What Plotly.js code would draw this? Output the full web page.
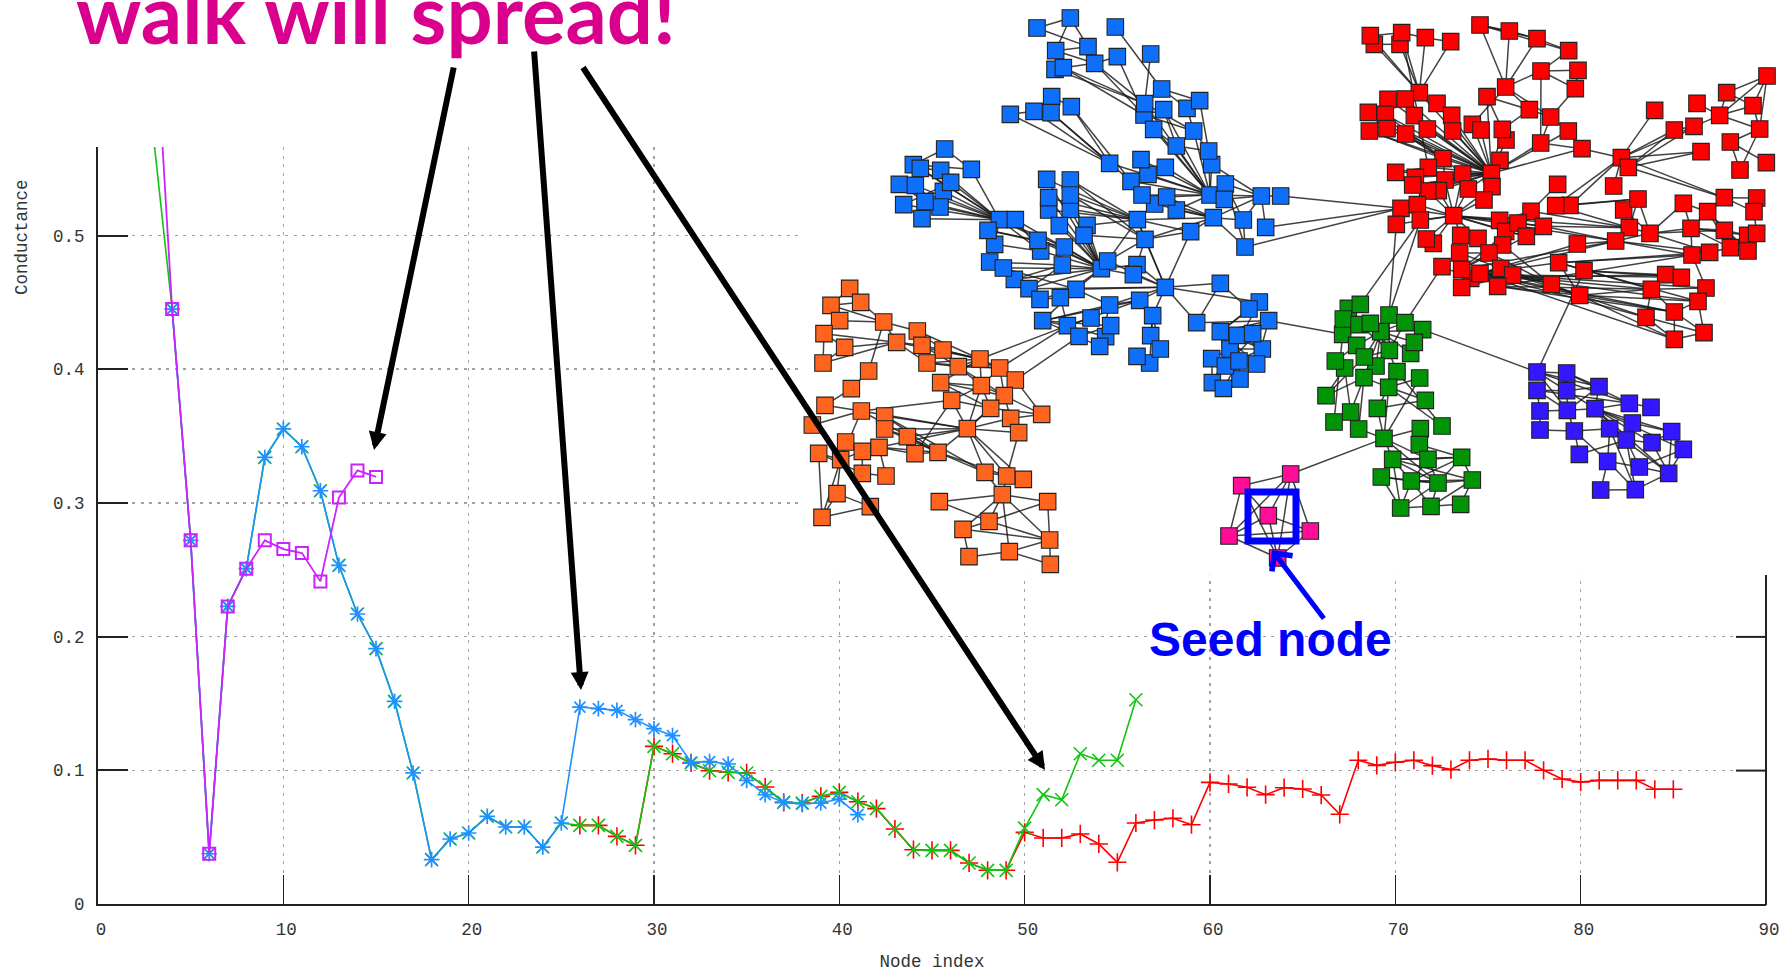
<!DOCTYPE html>
<html><head><meta charset="utf-8">
<script src="https://cdn.plot.ly/plotly-3.0.1.min.js"></script>
<style>html,body{margin:0;padding:0;background:#fff}#c{width:1783px;height:972px}</style>
</head><body><div id="c"></div>
<script>
// ---------- conductance curves (node index -> conductance)
const purpleIdx=[3,4,5,6,7,8,9,10,11,12,13,14,15];
const purpleVal=[.68,.445,.272,.0376,.2226,.2508,.272,.2655,.2625,.2413,.304,.3243,.3194];
const blueIdx=[4,5,6,7,8,9,10,11,12,13,14,15,16,17,18,19,20,21,22,23,24,25,26,27,28,29,30,31,32,33,34,35,36,37,38,39,40,41];
const blueVal=[.445,.272,.0376,.2226,.2508,.334,.3553,.342,.3091,.2533,.2169,.191,.1516,.098,.0332,.0486,.0531,.0656,.0576,.0576,.0426,.0606,.1473,.1461,.1448,.1379,.1311,.1259,.106,.1065,.1047,.0925,.0818,.076,.075,.0755,.0785,.0668];
const greenIdx=[3,4,5,6,7,8,9,10,11,12,13,14,15,16,17,18,19,20,21,22,23,24,25,26,27,28,29,30,31,32,33,34,35,36,37,38,39,40,41,42,43,44,45,46,47,48,49,50,51,52,53,54,55,56];
const greenVal=[.573,.445,.272,.0376,.2226,.2508,.334,.3553,.342,.3091,.2533,.2169,.191,.1516,.098,.0332,.0486,.0531,.0656,.0576,.0576,.0426,.0606,.0588,.0588,.0506,.0439,.1179,.1124,.1055,.0997,.0985,.098,.0875,.076,.0755,.0805,.0835,.0765,.0713,.0561,.0406,.0401,.0401,.0307,.0252,.0252,.0568,.0818,.078,.1124,.1075,.1075,.1528];
const redIdx=[26,27,28,29,30,31,32,33,34,35,36,37,38,39,40,41,42,43,44,45,46,47,48,49,50,51,52,53,54,55,56,57,58,59,60,61,62,63,64,65,66,67,68,69,70,71,72,73,74,75,76,77,78,79,80,81,82,83,84,85];
const redVal=[.0588,.0588,.0506,.0439,.1179,.1124,.1055,.0997,.0985,.098,.0875,.076,.0755,.0805,.0835,.0765,.0713,.0561,.0406,.0401,.0401,.0307,.0252,.0252,.0536,.0494,.0494,.0524,.0449,.0312,.0606,.0628,.0641,.0593,.091,.0898,.0873,.0818,.087,.086,.0815,.0671,.1075,.1037,.106,.1075,.1035,.1005,.1075,.1085,.1075,.1075,.1,.0935,.0912,.0925,.0925,.0925,.0858,.0858];
const xTicks=[0,10,20,30,40,50,60,70,80,90];
const yTicks=[0,.1,.2,.3,.4,.5];

// ---------- network nodes, in picture units (third of a pixel) from each cluster's origin
const blueOrigin=[880,0];
const blueNodes=[[471,84],[571,54],[624,140],[527,152],[525,208],[550,203],[644,190],[712,170],[706,81],[812,162],[845,267],[792,345],[794,311],[851,329],[921,325],[959,302],[821,388],[941,393],[889,438],[995,494],[986,453],[391,343],[462,334],[515,290],[513,338],[574,320],[689,490],[753,544],[804,523],[783,479],[856,502],[824,612],[786,585],[889,630],[860,591],[990,585],[1036,552],[1033,598],[1144,588],[1202,588],[1000,653],[1090,660],[1157,682],[1095,741],[932,695],[795,718],[772,659],[100,494],[194,447],[121,505],[182,511],[274,508],[190,574],[212,547],[58,553],[106,556],[71,614],[180,621],[135,605],[126,656],[358,659],[406,659],[500,538],[571,540],[506,630],[506,593],[571,628],[571,585],[538,677],[621,676],[612,706],[344,733],[324,691],[482,753],[474,721],[553,741],[329,786],[403,838],[370,804],[547,795],[664,806],[683,783],[771,794],[760,824],[447,866],[480,898],[588,868],[541,893],[856,862],[1021,850],[779,901],[689,915],[488,962],[562,977],[677,1010],[633,954],[692,977],[597,1009],[659,1039],[818,947],[812,1007],[809,1089],[771,1069],[841,1047],[950,968],[1138,906],[1107,927],[1166,962],[1050,1047],[1147,1047],[1021,995],[1072,1006],[1118,1001],[995,1076],[1080,1137],[1036,1098],[1130,1092],[1077,1083],[997,1148],[1030,1165]];
const orangeOrigin=[790,270];
const orangeNodes=[[179,55],[212,97],[123,106],[149,152],[281,156],[102,191],[382,183],[320,217],[164,232],[396,226],[459,240],[99,279],[411,279],[570,267],[505,290],[629,294],[236,303],[676,330],[452,338],[574,347],[184,356],[643,377],[485,391],[105,406],[602,415],[755,433],[662,445],[214,423],[284,438],[67,465],[532,476],[284,477],[686,488],[352,500],[167,516],[86,550],[152,569],[267,532],[217,544],[375,551],[444,547],[217,610],[288,618],[585,607],[700,628],[650,618],[637,674],[448,695],[773,695],[141,671],[96,742],[241,710],[597,754],[519,778],[779,810],[658,845],[537,860],[781,883]];
const greenOrigin=[1140,280];
const greenNodes=[[625,85],[661,73],[608,163],[610,117],[657,134],[722,155],[691,130],[747,105],[795,128],[848,149],[812,220],[650,196],[748,211],[823,187],[614,264],[586,243],[708,258],[673,231],[771,275],[839,294],[672,293],[746,322],[558,347],[632,396],[712,385],[856,361],[582,426],[656,447],[906,438],[841,446],[732,475],[838,494],[758,538],[864,538],[724,591],[814,603],[894,609],[782,684],[873,679],[965,532],[997,600],[962,673]];
const pinkOrigin=[1140,280];
const pinkNodes=[[452,582],[305,617],[385,707],[267,768],[511,753],[413,834]];
const violetOrigin=[1440,340];
const violetNodes=[[291,151],[291,96],[380,152],[380,99],[477,140],[568,190],[633,202],[300,213],[382,211],[465,206],[300,270],[403,273],[509,266],[559,300],[577,249],[636,308],[695,275],[730,328],[418,343],[503,364],[598,381],[686,400],[482,450],[586,449]];
const redOrigin=[1340,0];
const redNodes=[[103,133],[91,107],[180,133],[185,98],[256,113],[332,125],[420,75],[508,93],[591,116],[686,152],[603,213],[714,211],[706,266],[497,261],[441,290],[568,329],[632,351],[238,278],[144,298],[196,297],[291,310],[85,337],[136,343],[223,347],[335,346],[141,386],[88,393],[197,402],[262,387],[397,373],[338,393],[423,390],[498,420],[487,388],[602,429],[685,393],[726,446],[309,476],[265,502],[167,517],[226,532],[315,540],[368,522],[480,481],[454,520],[295,572],[263,573],[218,555],[385,567],[456,560],[432,600],[653,553],[821,558],[844,473],[865,502],[944,331],[1003,390],[1062,379],[1071,310],[1160,278],[1139,346],[1239,317],[1281,228],[1259,387],[1171,426],[1083,455],[1279,488],[1200,510],[851,630],[894,597],[1030,610],[1153,593],[1250,594],[1103,635],[1242,635],[183,625],[232,614],[341,647],[169,673],[241,660],[573,634],[690,616],[647,617],[479,661],[497,694],[534,669],[610,679],[559,709],[868,683],[930,700],[1053,685],[1153,691],[1223,706],[1250,700],[280,730],[259,717],[362,706],[414,715],[488,735],[712,732],[827,723],[359,759],[447,759],[1056,765],[1109,757],[1171,743],[1224,753],[306,800],[392,835],[365,862],[482,805],[518,825],[365,808],[420,820],[473,859],[656,788],[732,812],[977,824],[1024,832],[634,853],[719,886],[934,868],[1098,864],[1074,904],[1003,936],[918,952],[1092,998],[1003,1018]];

// ---------- network links: [node, [neighbours]]
const blueLinks=[[0,[1,2]],[1,[2,3]],[3,[2,6]],[2,[6]],[5,[6,11,12]],[6,[7,11,12]],[7,[11]],[4,[12]],[8,[10]],[9,[12]],[10,[12,15,14]],[11,[17,35,13]],[12,[17,35]],[13,[18,35]],[14,[17]],[15,[20]],[17,[20,35]],[18,[20,35]],[16,[35,18]],[19,[35,38]],[20,[35]],[21,[22,26]],[22,[23,26]],[23,[25]],[24,[26,27]],[25,[26,27]],[26,[35]],[27,[35]],[28,[35]],[29,[35]],[30,[35]],[31,[40]],[32,[35,40]],[33,[40,35]],[34,[35,40]],[35,[38]],[36,[38]],[37,[38]],[38,[39,40,41,42]],[40,[41,43,44,45,46]],[41,[43,36]],[43,[36]],[48,[47,51]],[47,[60,51]],[49,[50,60]],[50,[60]],[51,[60]],[52,[60]],[53,[60,56]],[54,[60,58]],[55,[60]],[56,[59,60]],[57,[60]],[58,[60]],[59,[60]],[60,[61,71,73,75,80]],[61,[73,80]],[71,[72,73]],[72,[74,75]],[76,[79]],[77,[79,80]],[78,[84,80,86]],[84,[80,79,88]],[85,[86,87]],[62,[80,46]],[63,[45,46]],[64,[80,46]],[65,[80,46]],[66,[80,46]],[67,[80,45,46]],[68,[80]],[69,[80,46]],[70,[80,45]],[73,[80]],[74,[80]],[75,[80]],[79,[80]],[81,[80,88,46,45]],[82,[80,45,88]],[83,[80,88]],[86,[80,88,91,92]],[87,[80,93]],[44,[88,46,45]],[45,[88,46]],[46,[88]],[88,[89,104,105,90,91,99]],[90,[91,92,93]],[91,[92,98]],[92,[93,96,98]],[93,[94,95]],[96,[97]],[99,[100,101,103]],[89,[104,106]],[104,[107]],[105,[110,115]],[106,[110]],[107,[110,111,112,115,116]],[108,[109,113,118]],[109,[110,111,115]],[110,[115,114,116]],[111,[114,115]],[112,[116]],[113,[114,118]],[114,[117,119]],[115,[116,117]],[117,[119]],[118,[119]]];
const orangeLinks=[[0,[1,2]],[1,[2,4]],[2,[3,4]],[3,[4]],[4,[6,7,16]],[5,[7,8,11]],[7,[8,9,11,12,13]],[8,[11]],[6,[10,13]],[9,[13,14]],[10,[13,14]],[12,[13,14,15]],[13,[14,15,17,18,19]],[14,[15,19,21]],[15,[17,19,21]],[18,[19,21,24]],[19,[21,22,24,30]],[21,[24,25,26,30]],[22,[24,30,39,27]],[17,[25]],[24,[25,30]],[26,[25,30]],[16,[20]],[20,[23]],[23,[27]],[29,[27]],[27,[30,36,40]],[28,[30,40,43]],[31,[30,33,40]],[33,[30,39,40]],[37,[30,39,40,42]],[40,[30,39,43,45]],[30,[32,43,45,44]],[32,[45]],[43,[45,46]],[44,[45]],[34,[38,36]],[36,[35,38,49,50,51]],[35,[41,50]],[38,[41]],[41,[42]],[49,[51,50]],[50,[51]],[46,[45,47,48,52,53,54,55]],[47,[52]],[48,[52,54]],[52,[54,53]],[53,[54,56]],[55,[54,56,57]],[54,[57]]];
const greenLinks=[[0,[2,4]],[2,[26,3]],[3,[4]],[4,[12]],[11,[5,15]],[6,[12]],[7,[12]],[8,[5,12]],[9,[5]],[13,[5]],[10,[5]],[16,[5]],[17,[5,12]],[18,[5,28]],[20,[5,22,23,21,27]],[14,[15,22,23]],[22,[17]],[26,[23]],[23,[27]],[27,[30]],[21,[24,25,28,30]],[24,[30,25]],[19,[30,21]],[30,[29,32,33,36]],[31,[33,39]],[32,[33,35,36,37,39,40]],[33,[35,36,39]],[34,[35,36,37]],[35,[36,37,38,39,40]],[36,[37,38,39,40]],[37,[38]],[38,[40,41]],[39,[40]],[40,[41]]];
const pinkLinks=[[0,[1,2,3,4,5]],[1,[2,3,5]],[2,[3,4,5]],[3,[4,5]],[4,[5]]];
const violetLinks=[[1,[3,2,4,5,8]],[3,[4,5,8]],[0,[2,8,5,7]],[2,[4,9]],[4,[8,9]],[5,[6,9]],[7,[8,10]],[8,[9,11]],[10,[11]],[11,[12,19,18]],[9,[12,14,16,17,15,21,13]],[12,[13,19,23,21]],[14,[16,13]],[13,[15,20,23]],[15,[16,21]],[16,[17,21]],[17,[21,20]],[18,[13]],[19,[20,22,23]],[20,[21]],[21,[23]],[22,[23]]];
const redLinks=[[0,[1,2,17]],[1,[17,3]],[2,[3,17]],[3,[4,17,38]],[4,[5,17]],[5,[17]],[6,[7,8,9,13]],[7,[8,13]],[8,[9,13]],[9,[10]],[10,[11,12,13,34]],[11,[12]],[12,[16]],[13,[15,16,29]],[14,[15,33,44]],[15,[16,33]],[16,[34,35]],[17,[44]],[18,[44]],[19,[44]],[20,[44]],[21,[44,37]],[22,[44,37]],[23,[44]],[24,[44]],[25,[44]],[26,[44,37]],[27,[44,37]],[28,[44]],[29,[44]],[30,[44]],[31,[44]],[32,[44]],[33,[44]],[34,[44,36]],[35,[44,36]],[36,[44,53]],[37,[38,41,42,44]],[38,[41,44]],[39,[38,44]],[40,[44]],[41,[44]],[42,[44]],[43,[44]],[45,[44]],[46,[44]],[47,[44]],[48,[44]],[49,[44]],[50,[44]],[53,[55,56,57,65,71,54,52]],[54,[56,65,57,71]],[56,[57]],[57,[60]],[58,[60]],[59,[60,61,62]],[60,[61,62,63]],[61,[62,63]],[62,[63]],[63,[64,67]],[64,[66,67]],[81,[53,69]],[82,[53,69,88]],[51,[80]],[77,[75,76,78,79,94,95,96,97,50,46,45,48,49,41,42,83,84,86,88,100,87]],[80,[83,84,88]],[86,[83,88,100]],[87,[84,83,112,86]],[85,[84,112]],[98,[83,84,112,119]],[102,[97,98,101,119]],[99,[100,113]],[100,[88,89,103,104,113,112]],[112,[113]],[113,[114,115,120,121,122,123,124,125,127]],[120,[114,115,121,123,124,125,127]],[88,[89]],[89,[90,70,91,104,69]],[68,[89,69]],[69,[88]],[70,[73,90]],[71,[72,73,74]],[73,[90,91,105,106]],[90,[92,91,105]],[91,[92,105,106]],[92,[93]],[104,[105,115]],[103,[90,114,115,122]],[105,[106]],[72,[74]],[74,[93]],[114,[121,124]],[115,[121,123]],[121,[122,124,125]],[122,[123]],[123,[124,126]],[124,[126,127]],[125,[126,127]],[126,[127]],[96,[97,101]],[101,[108,112]],[108,[107,110,117]],[110,[109,101,119]],[109,[111]],[111,[114,118,119,120]],[118,[116]],[116,[117]],[119,[120]]];
// links between clusters
const bridges=[["blue",39,"red",75],["blue",42,"red",75],["blue",43,"red",75],["blue",107,"green",2],["blue",93,"orange",13],["blue",93,"orange",15],["blue",97,"orange",17],["pink",0,"green",30],["green",1,"red",79],["green",7,"red",79],["green",7,"red",78],["green",8,"red",107],["green",9,"violet",1],["red",116,"violet",1]];

const sets={
 blue:{nodes:blueNodes,origin:blueOrigin,links:blueLinks,color:'#0E6FFA'},
 orange:{nodes:orangeNodes,origin:orangeOrigin,links:orangeLinks,color:'#FF641E'},
 green:{nodes:greenNodes,origin:greenOrigin,links:greenLinks,color:'#009406'},
 red:{nodes:redNodes,origin:redOrigin,links:redLinks,color:'#FF0000'},
 violet:{nodes:violetNodes,origin:violetOrigin,links:violetLinks,color:'#3318FF'},
 pink:{nodes:pinkNodes,origin:pinkOrigin,links:pinkLinks,color:'#FF0D96'}
};
const pos=(k,i)=>[sets[k].origin[0]+sets[k].nodes[i][0]/3,sets[k].origin[1]+sets[k].nodes[i][1]/3];
const ex=[],ey=[];
const link=(a,b)=>{ex.push(a[0],b[0],null);ey.push(a[1],b[1],null);};
Object.keys(sets).forEach(k=>sets[k].links.forEach(([a,list])=>list.forEach(b=>link(pos(k,a),pos(k,b)))));
bridges.forEach(b=>link(pos(b[0],b[1]),pos(b[2],b[3])));

const curve=(x,y,color,symbol,size,lw,mw)=>({type:'scatter',mode:'lines+markers',x,y,xaxis:'x',yaxis:'y',hoverinfo:'skip',
 line:{color,width:lw},marker:{symbol,size,color,line:{color,width:mw}}});
const traces=[
 curve(redIdx,redVal,'#FF0000','cross-thin',13,1.6,1.6),
 curve(greenIdx,greenVal,'#10C410','x-thin',13,1.6,1.6),
 curve(blueIdx,blueVal,'#1E90FF','asterisk',13,1.6,1.7),
 curve(purpleIdx,purpleVal,'#CC22FF','square-open',12,1.8,2),
 {type:'scatter',mode:'lines',x:ex,y:ey,xaxis:'x2',yaxis:'y2',hoverinfo:'skip',connectgaps:false,line:{color:'rgba(25,25,25,.82)',width:1.5}}
];
Object.keys(sets).forEach(k=>{
 const s=sets[k];
 traces.push({type:'scatter',mode:'markers',xaxis:'x2',yaxis:'y2',hoverinfo:'skip',
  x:s.nodes.map((_,i)=>pos(k,i)[0]),y:s.nodes.map((_,i)=>pos(k,i)[1]),
  marker:{symbol:'square',size:16.5,color:s.color,line:{color:'#222',width:1.1}}});
});

const axisFont={family:'"Liberation Mono","DejaVu Sans Mono",monospace',size:17.5,color:'#333'};
const arrow=(x,y,ax,ay,color,w,head,size)=>({xref:'x2',yref:'y2',axref:'x2',ayref:'y2',x,y,ax,ay,text:'',showarrow:true,arrowcolor:color,arrowwidth:w,arrowhead:head,arrowsize:size,standoff:0,startstandoff:0});
const txt=(x,y,text,font,extra)=>Object.assign({xref:'x2',yref:'y2',x,y,text,font,showarrow:false,xanchor:'center',yanchor:'middle'},extra||{});
const layout={
 width:1783,height:972,autosize:false,showlegend:false,hovermode:false,
 margin:{l:0,r:0,t:0,b:0,pad:0},paper_bgcolor:'#fff',plot_bgcolor:'rgba(0,0,0,0)',
 xaxis:{domain:[98/1783,1766/1783],range:[0,90],anchor:'y',tickvals:xTicks,ticks:'inside',ticklen:29,tickwidth:1.6,tickcolor:'#222',
  showline:true,linecolor:'#222',linewidth:2,showgrid:true,gridcolor:'#A0A0A0',griddash:'3px,5.5px',gridwidth:1.5,zeroline:false,
  tickfont:axisFont,ticklabelstandoff:8,ticklabelshift:3,fixedrange:true,
  title:{text:'Node index',font:axisFont,standoff:18}},
 yaxis:{domain:[68/972,825/972],range:[0,757/1337],anchor:'x',tickvals:yTicks,ticktext:['0','0.1','0.2','0.3','0.4','0.5'],ticks:'inside',ticklen:30,tickwidth:2,tickcolor:'#222',
  showline:true,linecolor:'#222',linewidth:2,showgrid:true,gridcolor:'#A0A0A0',griddash:'3px,5.5px',gridwidth:1.5,zeroline:false,
  tickfont:axisFont,ticklabelstandoff:8,fixedrange:true},
 xaxis2:{domain:[0,1],range:[0,1783],anchor:'y2',visible:false,fixedrange:true},
 yaxis2:{domain:[0,1],range:[972,0],anchor:'x2',visible:false,fixedrange:true},
 shapes:[
  {type:'rect',layer:'between',xref:'x',yref:'y',x0:37.98,x1:91,y0:.2463,y1:.6,fillcolor:'#fff',line:{width:0}},
  {type:'line',layer:'above',xref:'x2',yref:'y2',x0:1766,x1:1766,y0:575,y1:905,line:{color:'#222',width:2}},
  {type:'line',layer:'above',xref:'x2',yref:'y2',x0:1736,x1:1766,y0:770.6,y1:770.6,line:{color:'#222',width:2}},
  {type:'line',layer:'above',xref:'x2',yref:'y2',x0:1736,x1:1766,y0:636.9,y1:636.9,line:{color:'#222',width:2}},
  {type:'rect',layer:'above',xref:'x2',yref:'y2',x0:1248,x1:1296,y0:492,y1:541,line:{color:'#0000FF',width:7},fillcolor:'rgba(0,0,0,0)'}
 ],
 annotations:[
  txt(22,237,'Conductance',axisFont,{textangle:-90}),
  txt(376,12,'walk will spread!',{family:'Lato,"Open Sans",sans-serif',size:81.5,color:'#D9008D',weight:700}),
  txt(1270,639,'Seed node',{family:'"Liberation Sans",Arial,sans-serif',size:48,color:'#0000FF',weight:700}),
  arrow(374,450,454,66,'#000',6,2,.6),
  arrow(581,690,534,50,'#000',6,2,.6),
  arrow(1045,770,582,66,'#000',6,2,.6),
  arrow(1272,550,1325,620,'#0000FF',5,4,1)
 ]
};
Plotly.newPlot('c',traces,layout,{displayModeBar:false,staticPlot:true,responsive:false});
</script></body></html>
